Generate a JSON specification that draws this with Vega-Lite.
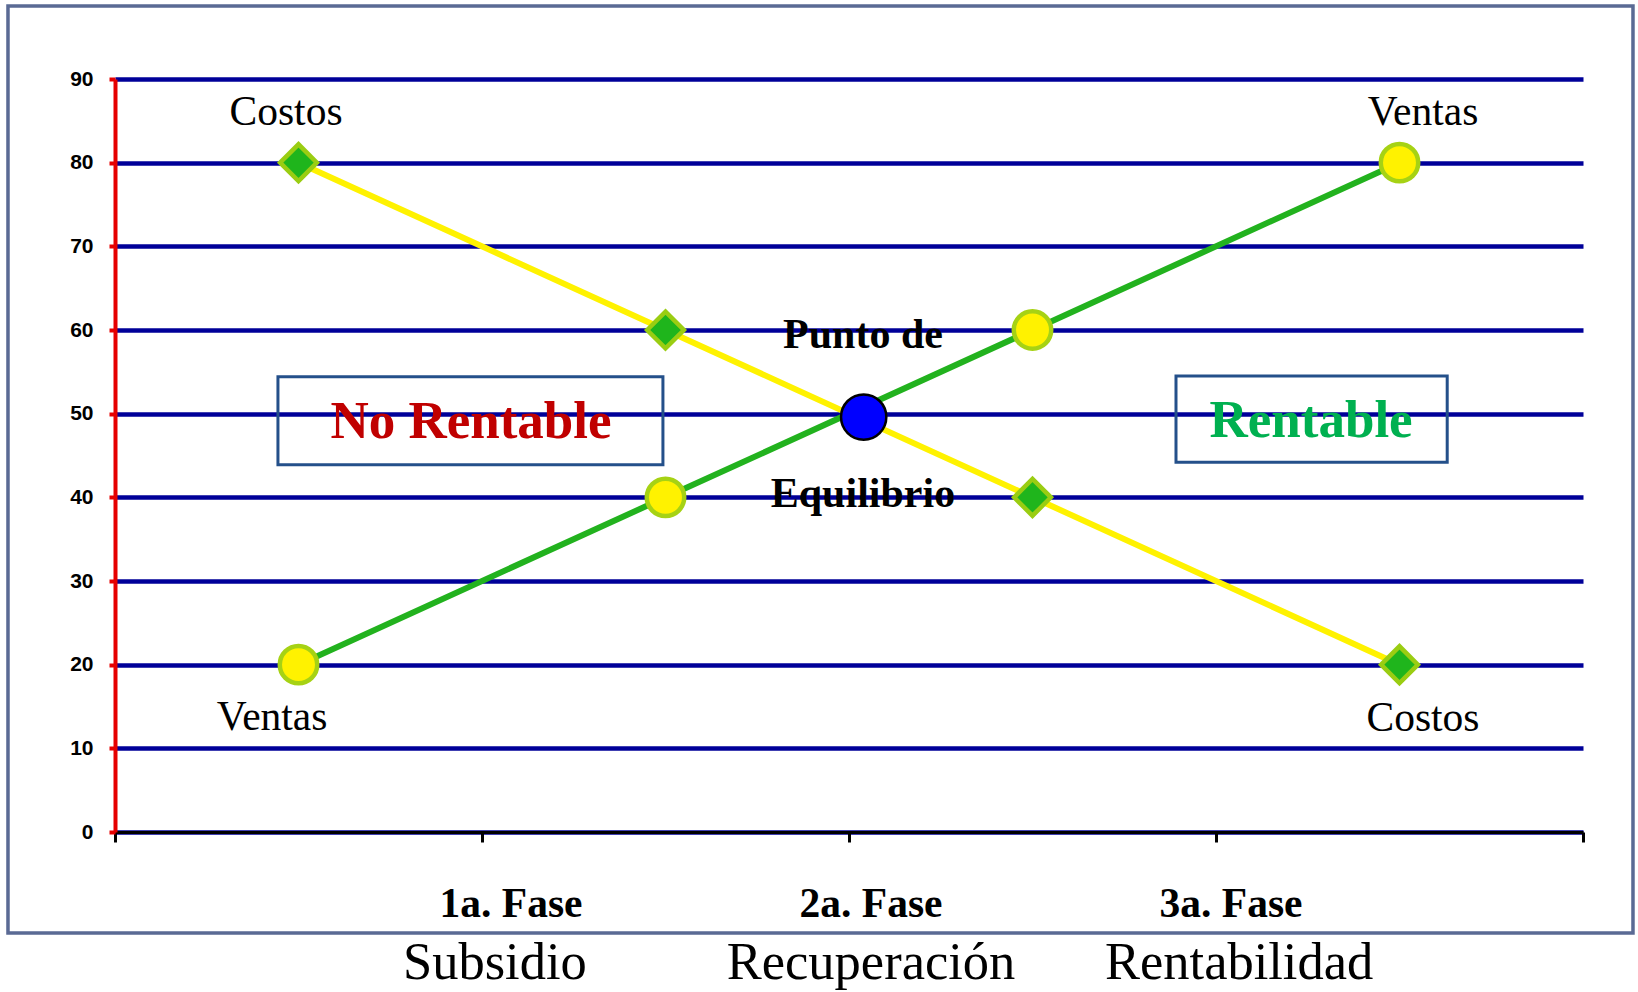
{
  "$schema": "https://vega.github.io/schema/vega-lite/v6.json",
  "width": 1468,
  "height": 753,
  "autosize": "none",
  "padding": {"left": 115, "top": 79, "right": 55, "bottom": 160},
  "background": "white",
  "config": {"view": {"stroke": null}},
  "datasets": {
    "series": [
      {"x": 0.5, "y": 80, "serie": "Costos"},
      {"x": 1.5, "y": 60, "serie": "Costos"},
      {"x": 2.5, "y": 40, "serie": "Costos"},
      {"x": 3.5, "y": 20, "serie": "Costos"},
      {"x": 0.5, "y": 20, "serie": "Ventas"},
      {"x": 1.5, "y": 40, "serie": "Ventas"},
      {"x": 2.5, "y": 60, "serie": "Ventas"},
      {"x": 3.5, "y": 80, "serie": "Ventas"}
    ],
    "equilibrio": [{"x": 2.04, "y": 49.6}],
    "marco": [{"x": -0.2916, "x2": 4.1362, "y": 98.72, "y2": -12.07}],
    "cajas": [
      {"x": 0.444, "x2": 1.493, "y": 54.4, "y2": 43.9, "caja": "No Rentable"},
      {"x": 2.891, "x2": 3.630, "y": 54.5, "y2": 44.2, "caja": "Rentable"}
    ],
    "etiquetas": [
      {"x": 0.466, "y": 84.5, "texto": "Costos", "tipo": "serie"},
      {"x": 0.428, "y": 12.2, "texto": "Ventas", "tipo": "serie"},
      {"x": 3.564, "y": 84.5, "texto": "Ventas", "tipo": "serie"},
      {"x": 3.564, "y": 12.1, "texto": "Costos", "tipo": "serie"},
      {"x": 2.038, "y": 57.9, "texto": "Punto de", "tipo": "punto"},
      {"x": 2.038, "y": 38.8, "texto": "Equilibrio", "tipo": "punto"},
      {"x": 0.970, "y": 47.1, "texto": "No Rentable", "tipo": "norentable"},
      {"x": 3.259, "y": 47.2, "texto": "Rentable", "tipo": "rentable"},
      {"x": 1.079, "y": -10.2, "texto": "1a. Fase", "tipo": "fase"},
      {"x": 2.060, "y": -10.2, "texto": "2a. Fase", "tipo": "fase"},
      {"x": 3.041, "y": -10.2, "texto": "3a. Fase", "tipo": "fase"},
      {"x": 1.035, "y": -17.6, "texto": "Subsidio", "tipo": "nombre"},
      {"x": 2.060, "y": -17.6, "texto": "Recuperación", "tipo": "nombre"},
      {"x": 3.063, "y": -17.6, "texto": "Rentabilidad", "tipo": "nombre"}
    ]
  },
  "encoding": {
    "x": {
      "field": "x", "type": "quantitative",
      "scale": {"domain": [0, 4], "nice": false, "zero": false},
      "axis": {
        "title": null, "values": [0, 1, 2, 3, 4], "labels": false, "grid": false,
        "domainColor": "#000000", "domainWidth": 3,
        "tickColor": "#000000", "tickWidth": 3, "tickSize": 10
      }
    },
    "y": {
      "field": "y", "type": "quantitative",
      "scale": {"domain": [0, 90], "nice": false, "zero": false},
      "axis": {
        "title": null, "values": [0, 10, 20, 30, 40, 50, 60, 70, 80, 90],
        "grid": true, "gridColor": "#000099", "gridWidth": 4.5,
        "domainColor": "#E60000", "domainWidth": 4,
        "tickColor": "#E60000", "tickWidth": 4, "tickSize": 6,
        "labelFont": "Liberation Sans", "labelFontWeight": 900, "labelFontSize": 21,
        "labelColor": "#000000", "labelPadding": 16
      }
    }
  },
  "layer": [
    {
      "data": {"name": "marco"},
      "mark": {"type": "rect", "fill": null, "stroke": "#5A6A94", "strokeWidth": 3.5, "clip": false},
      "encoding": {"x2": {"field": "x2"}, "y2": {"field": "y2"}}
    },
    {
      "data": {"name": "cajas"},
      "mark": {"type": "rect", "fill": null, "stroke": "#24508A", "strokeWidth": 3},
      "encoding": {"x2": {"field": "x2"}, "y2": {"field": "y2"}}
    },
    {
      "data": {"name": "series"},
      "transform": [{"filter": "datum.serie === 'Costos'"}],
      "mark": {"type": "line", "color": "#FFF200", "strokeWidth": 6},
      "encoding": {}
    },
    {
      "data": {"name": "series"},
      "transform": [{"filter": "datum.serie === 'Ventas'"}],
      "mark": {"type": "line", "color": "#22B21E", "strokeWidth": 6},
      "encoding": {}
    },
    {
      "data": {"name": "series"},
      "transform": [{"filter": "datum.serie === 'Costos'"}],
      "mark": {"type": "point", "shape": "diamond", "filled": true, "fill": "#1FB51C", "stroke": "#9ACD12", "strokeWidth": 4.5, "opacity": 1, "size": 1350},
      "encoding": {}
    },
    {
      "data": {"name": "series"},
      "transform": [{"filter": "datum.serie === 'Ventas'"}],
      "mark": {"type": "point", "shape": "circle", "filled": true, "fill": "#FFF200", "stroke": "#A6D214", "strokeWidth": 4.5, "opacity": 1, "size": 1400},
      "encoding": {}
    },
    {
      "data": {"name": "equilibrio"},
      "mark": {"type": "point", "shape": "circle", "filled": true, "fill": "#0000FF", "stroke": "#000000", "strokeWidth": 2.5, "opacity": 1, "size": 2050},
      "encoding": {}
    },
    {
      "data": {"name": "etiquetas"},
      "transform": [{"filter": "datum.tipo === 'serie'"}],
      "mark": {"type": "text", "font": "Liberation Serif", "fontSize": 41.5, "color": "#000000", "baseline": "alphabetic", "align": "center", "clip": false},
      "encoding": {"text": {"field": "texto"}}
    },
    {
      "data": {"name": "etiquetas"},
      "transform": [{"filter": "datum.tipo === 'punto'"}],
      "mark": {"type": "text", "font": "Liberation Serif", "fontWeight": "bold", "fontSize": 42, "color": "#000000", "baseline": "alphabetic", "align": "center"},
      "encoding": {"text": {"field": "texto"}}
    },
    {
      "data": {"name": "etiquetas"},
      "transform": [{"filter": "datum.tipo === 'norentable'"}],
      "mark": {"type": "text", "font": "Liberation Serif", "fontWeight": "bold", "fontSize": 53, "color": "#C00000", "baseline": "alphabetic", "align": "center"},
      "encoding": {"text": {"field": "texto"}}
    },
    {
      "data": {"name": "etiquetas"},
      "transform": [{"filter": "datum.tipo === 'rentable'"}],
      "mark": {"type": "text", "font": "Liberation Serif", "fontWeight": "bold", "fontSize": 53, "color": "#00B050", "baseline": "alphabetic", "align": "center"},
      "encoding": {"text": {"field": "texto"}}
    },
    {
      "data": {"name": "etiquetas"},
      "transform": [{"filter": "datum.tipo === 'fase'"}],
      "mark": {"type": "text", "font": "Liberation Serif", "fontWeight": "bold", "fontSize": 41.5, "color": "#000000", "baseline": "alphabetic", "align": "center", "clip": false},
      "encoding": {"text": {"field": "texto"}}
    },
    {
      "data": {"name": "etiquetas"},
      "transform": [{"filter": "datum.tipo === 'nombre'"}],
      "mark": {"type": "text", "font": "Liberation Serif", "fontSize": 52.5, "color": "#000000", "baseline": "alphabetic", "align": "center", "clip": false},
      "encoding": {"text": {"field": "texto"}}
    }
  ]
}
